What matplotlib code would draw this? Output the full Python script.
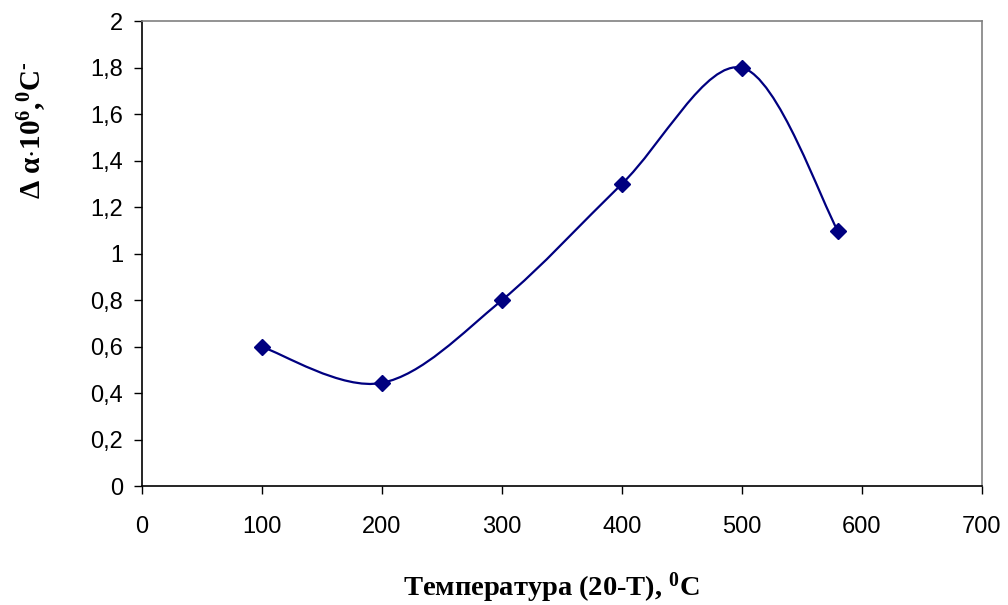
import matplotlib
matplotlib.use('Agg')
import matplotlib.pyplot as plt
import numpy as np
from matplotlib.path import Path
from matplotlib.patches import PathPatch

# Data
temp = [100, 200, 300, 400, 500, 580]
dalpha = [0.6, 0.445, 0.8, 1.3, 1.8, 1.1]

xticks = [0, 100, 200, 300, 400, 500, 600, 700]
yticks = [0, 0.2, 0.4, 0.6, 0.8, 1.0, 1.2, 1.4, 1.6, 1.8, 2.0]
ytick_labels = ['0', '0,2', '0,4', '0,6', '0,8', '1', '1,2', '1,4', '1,6', '1,8', '2']

plt.rcParams['mathtext.fontset'] = 'custom'
plt.rcParams['mathtext.rm'] = 'Liberation Serif'
plt.rcParams['mathtext.bf'] = 'Liberation Serif:bold'
plt.rcParams['mathtext.it'] = 'Liberation Serif:italic'

navy = '#000080'

fig = plt.figure(figsize=(10.08, 6.05), dpi=100)
ax = fig.add_axes([0.1406, 0.196, 0.8334, 0.769])
ax.set_xlim(0, 700)
ax.set_ylim(0, 2)

# smooth line, Excel style: cubic Bezier segments through the points
pts = np.column_stack([temp, dalpha])
n = len(pts)
verts = [pts[0]]
codes = [Path.MOVETO]
for i in range(n - 1):
    p0 = pts[i - 1] if i > 0 else pts[i]
    p1 = pts[i]
    p2 = pts[i + 1]
    p3 = pts[i + 2] if i + 2 < n else pts[i + 1]
    c1 = p1 + (p2 - p0) / 6.0
    c2 = p2 - (p3 - p1) / 6.0
    verts += [c1, c2, p2]
    codes += [Path.CURVE4] * 3
ax.add_patch(PathPatch(Path(verts, codes), facecolor='none', edgecolor=navy, lw=1.6))

ax.plot(temp, dalpha, linestyle='none', marker='D', markersize=8,
        color=navy, zorder=3)

ax.set_xticks(xticks)
ax.set_yticks(yticks)
ax.set_yticklabels(ytick_labels)
ax.tick_params(direction='out', length=5.5, width=1, labelsize=17)
ax.tick_params(axis='y', pad=8)
ax.tick_params(axis='x', pad=16)
for lab in ax.get_xticklabels() + ax.get_yticklabels():
    lab.set_fontfamily('Liberation Sans')

ax.spines['left'].set_color('black')
ax.spines['bottom'].set_color('black')
ax.spines['top'].set_color('#808080')
ax.spines['right'].set_color('#808080')
for s in ax.spines.values():
    s.set_linewidth(1.2)

ax.set_xlabel(r'$\mathbf{Температура\ (20\text{-}T){,}\ {}^{0}C}$', fontsize=20.5)
ax.xaxis.set_label_coords(0.487, -0.180)
ax.set_ylabel(r'$\mathbf{\Delta\ \alpha{\cdot}10^{6}{,}{}^{0}C^{\text{-}}}$', fontsize=21)
ax.yaxis.set_label_coords(-0.110, 0.766)

fig.savefig('out.png', dpi=100)
